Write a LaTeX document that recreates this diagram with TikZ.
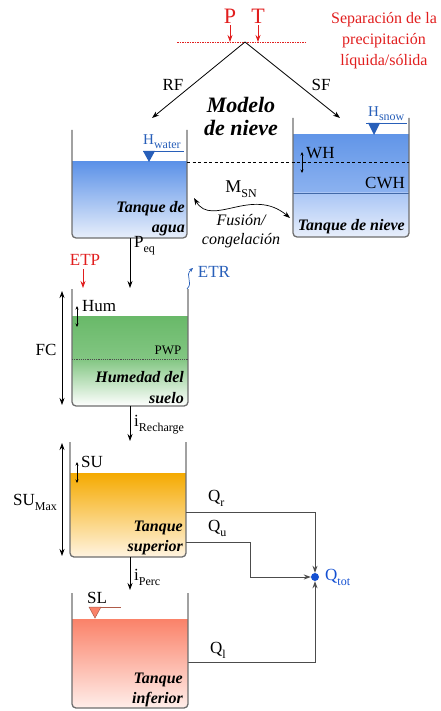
\documentclass[tikz,border=0pt]{standalone}
\usepackage{fontspec}
\setmainfont{Liberation Serif}
\usetikzlibrary{arrows.meta}
\definecolor{wallc}{RGB}{110,110,110}
\definecolor{waterT}{RGB}{92,146,232}
\definecolor{waterB}{RGB}{232,239,251}
\definecolor{snowT}{RGB}{98,150,232}
\definecolor{snowM}{RGB}{140,178,240}
\definecolor{snowL}{RGB}{170,198,245}
\definecolor{soilG}{RGB}{105,185,105}
\definecolor{soilL}{RGB}{130,198,130}
\definecolor{orangeT}{RGB}{245,170,0}
\definecolor{orangeB}{RGB}{255,244,225}
\definecolor{salmonT}{RGB}{250,130,105}
\definecolor{salmonB}{RGB}{255,238,234}
\definecolor{redc}{RGB}{225,30,30}
\definecolor{bluec}{RGB}{40,95,185}
\definecolor{dotc}{RGB}{20,80,210}
\newcommand{\lowsub}[1]{\raisebox{-0.3em}{\fontsize{12}{12}\selectfont #1}}
\begin{document}
\begin{tikzpicture}[x=1pt,y=1pt,
  wall/.style={draw=wallc,line width=1.3pt,rounded corners=4pt},
  flow/.style={-{Stealth[length=7pt,width=5pt]},line width=0.8pt},
  dflow/.style={{Stealth[length=7pt,width=5pt]}-{Stealth[length=7pt,width=5pt]},line width=0.8pt},
  sflow/.style={{Stealth[length=3.5pt,width=3pt]}-{Stealth[length=3.5pt,width=3pt]},line width=0.6pt},
  qflow/.style={-{Stealth[length=7pt,width=5pt]},line width=0.9pt,draw=black!70},
  lbl/.style={font=\fontsize{17}{19}\selectfont,inner sep=0pt},
  tnk/.style={font=\fontsize{16}{20}\selectfont\bfseries\itshape,align=right,anchor=east,inner sep=0pt},
]
\useasboundingbox (0,0) rectangle (440,-711);

% ---------- top: precipitation split ----------
\node[lbl,text=redc,font=\fontsize{22}{24}\selectfont] (P) at (230,-16) {P};
\node[lbl,text=redc,font=\fontsize{22}{24}\selectfont] (T) at (258,-16) {T};
\coordinate (Pb) at (230,-42);
\coordinate (Tb) at (258,-42);
\coordinate (sepL) at (177,-42);
\coordinate (sepR) at (307,-42);
\draw[redc,line width=0.6pt,dash pattern=on 1.5pt off 1pt] (sepL) -- (sepR);
\draw[flow,redc] (P.south) ++(0,-2) -- (Pb);
\draw[flow,redc] (T.south) ++(0,-2) -- (Tb);
\node[lbl,text=redc,font=\fontsize{16}{21}\selectfont,align=center] (sep) at (384,-41)
  {Separación de la\\precipitación\\líquida/sólida};
\coordinate (apex) at (245,-42);
\coordinate (rfEnd) at (152,-118);
\coordinate (sfEnd) at (340,-118);
\draw[flow] (apex) -- (rfEnd);
\draw[flow] (apex) -- (sfEnd);
\node[lbl] (RF) at (173,-85) {RF};
\node[lbl] (SF) at (321,-85) {SF};
\node[lbl,font=\fontsize{22}{23}\selectfont\bfseries\itshape,align=center] (modelo) at (241,-116) {Modelo\\de nieve};

% ---------- water tank ----------
\begin{scope}
\clip[rounded corners=4pt] (72,-130) rectangle (187,-238);
\shade[top color=waterT,bottom color=waterB] (72,-162) rectangle (187,-238);
\end{scope}
\draw[wall] (72,-130) -- (72,-238) -- (187,-238) -- (187,-130);
\draw[bluec,line width=0.6pt] (143,-151) -- (184,-151);
\fill[bluec] (143,-151) -- (155,-151) -- (149,-162) -- cycle;
\node[lbl,text=bluec,font=\fontsize{15}{17}\selectfont,anchor=south west] (Hw) at (143,-149) {H\lowsub{water}};
\node[tnk] (tagua) at (185,-219) {Tanque de\\agua};

% ---------- snow tank ----------
\begin{scope}
\clip[rounded corners=4pt] (293,-118) rectangle (409,-237);
\shade[top color=snowT,bottom color=snowM] (293,-135) rectangle (409,-193);
\shade[top color=snowL,bottom color=waterB] (293,-193) rectangle (409,-237);
\end{scope}
\draw[draw=bluec!70!gray,line width=0.6pt] (293,-193) -- (409,-193);
\draw[wall] (293,-118) -- (293,-237) -- (409,-237) -- (409,-118);
\draw[bluec,line width=0.6pt] (366,-123) -- (407,-123);
\fill[bluec] (368,-123) -- (380,-123) -- (374,-135) -- cycle;
\node[lbl,text=bluec,font=\fontsize{15}{17}\selectfont,anchor=south west] (Hs) at (368,-121) {H\lowsub{snow}};
\draw[black,line width=0.7pt,dash pattern=on 3pt off 2.5pt] (187,-162) -- (409,-162);
\node[lbl,anchor=west] (WH) at (306,-153) {WH};
\draw[sflow] (302,-152) -- (302,-173);
\node[lbl] (CWH) at (385,-183) {CWH};
\node[tnk] (tnieve) at (405,-227) {Tanque de nieve};

% ---------- melt / freeze ----------
\node[lbl,font=\fontsize{18}{20}\selectfont] (MSN) at (241,-189) {M\lowsub{SN}};
\coordinate (mL) at (194,-198);
\coordinate (mR) at (290,-218);
\draw[dflow,line width=0.7pt] (mL) .. controls (212,-228) and (252,-186) .. (mR);
\node[lbl,font=\fontsize{16}{19}\selectfont\itshape,align=center] (fus) at (241,-231) {Fusión/\\congelación};

% ---------- P_eq ----------
\coordinate (peq0) at (130,-238);
\coordinate (peq1) at (130,-288);
\draw[flow] (peq0) -- (peq1);
\node[lbl,anchor=west] (Peq) at (134,-246) {P\lowsub{eq}};

% ---------- soil tank ----------
\begin{scope}
\clip[rounded corners=4pt] (72,-289) rectangle (188,-406);
\shade[top color=soilG,bottom color=soilL] (72,-316) rectangle (188,-359);
\shade[top color=soilL,bottom color=white] (72,-359) rectangle (188,-406);
\end{scope}
\draw[wall] (72,-289) -- (72,-406) -- (188,-406) -- (188,-289);
\draw[black!70,line width=0.5pt,dash pattern=on 1.2pt off 1pt] (72,-359) -- (188,-359);
\node[lbl,text=redc] (ETP) at (85,-260) {ETP};
\coordinate (etp1) at (83,-288);
\draw[flow,redc] (83,-269) -- (etp1);
\node[lbl,text=bluec] (ETR) at (214,-272) {ETR};
\coordinate (etr0) at (187,-289);
\coordinate (etr1) at (193,-268);
\draw[-{Stealth[length=4pt,width=3.5pt]},bluec,line width=0.7pt] (etr0) .. controls (194,-282) and (184,-276) .. (etr1);
\node[lbl,anchor=west] (Hum) at (82,-306) {Hum};
\draw[sflow] (77,-306) -- (77,-327);
\node[lbl,font=\fontsize{13}{15}\selectfont] (PWP) at (168,-350) {PWP};
\node[tnk,font=\fontsize{16}{21}\selectfont\bfseries\itshape] (thum) at (184,-388) {Humedad del\\suelo};
\draw[dflow] (62,-291) -- (62,-405);
\node[lbl] (FC) at (46,-350) {FC};

% ---------- i_Recharge ----------
\coordinate (ir0) at (130,-406);
\coordinate (ir1) at (130,-441);
\draw[flow] (ir0) -- (ir1);
\node[lbl,anchor=west] (iRe) at (134,-425) {i\lowsub{Recharge}};

% ---------- upper tank ----------
\begin{scope}
\clip[rounded corners=4pt] (70,-442) rectangle (186,-557);
\shade[top color=orangeT,bottom color=orangeB] (70,-473) rectangle (186,-557);
\end{scope}
\draw[wall] (70,-442) -- (70,-557) -- (186,-557) -- (186,-442);
\node[lbl,anchor=west] (SU) at (81,-462) {SU};
\draw[sflow] (77,-462) -- (77,-483);
\draw[dflow] (62,-443) -- (62,-556);
\node[lbl] (SUM) at (35,-502) {SU\lowsub{Max}};
\node[tnk] (tsup) at (183,-538) {Tanque\\superior};

% ---------- outflows ----------
\node[circle,fill=dotc,inner sep=0pt,minimum size=8pt] (qtot) at (315,-577) {};
\node[lbl,text=dotc,anchor=west] (Qtot) at (325,-577) {Q\lowsub{tot}};
\coordinate (qr0) at (186,-512);
\coordinate (qr1) at (315,-512);
\draw[qflow] (qr0) -- (qr1) -- (qtot);
\node[lbl,anchor=west] (Qr) at (208,-498) {Q\lowsub{r}};
\coordinate (qu0) at (186,-542);
\coordinate (qu1) at (250,-542);
\coordinate (qu2) at (250,-577);
\draw[qflow] (qu0) -- (qu1) -- (qu2) -- (qtot);
\node[lbl,anchor=west] (Qu) at (208,-528) {Q\lowsub{u}};
\coordinate (ql0) at (188,-662);
\coordinate (ql1) at (315,-662);
\draw[qflow] (ql0) -- (ql1) -- (qtot);
\node[lbl,anchor=west] (Ql) at (210,-650) {Q\lowsub{l}};

% ---------- i_Perc ----------
\coordinate (ip0) at (130,-557);
\coordinate (ip1) at (130,-590);
\draw[flow] (ip0) -- (ip1);
\node[lbl,anchor=west] (iPe) at (134,-577) {i\lowsub{Perc}};

% ---------- lower tank ----------
\begin{scope}
\clip[rounded corners=4pt] (72,-593) rectangle (188,-708);
\shade[top color=salmonT,bottom color=salmonB] (72,-619) rectangle (188,-708);
\end{scope}
\draw[wall] (72,-593) -- (72,-708) -- (188,-708) -- (188,-593);
\draw[salmonT!70!black,line width=0.6pt] (95,-607) -- (121,-607);
\filldraw[fill=salmonT,draw=salmonT!70!black,line width=0.5pt] (89,-607) -- (101,-607) -- (95,-618) -- cycle;
\node[lbl] (SL) at (97,-598) {SL};
\node[tnk] (tinf) at (183,-690) {Tanque\\inferior};
\end{tikzpicture}
\end{document}
